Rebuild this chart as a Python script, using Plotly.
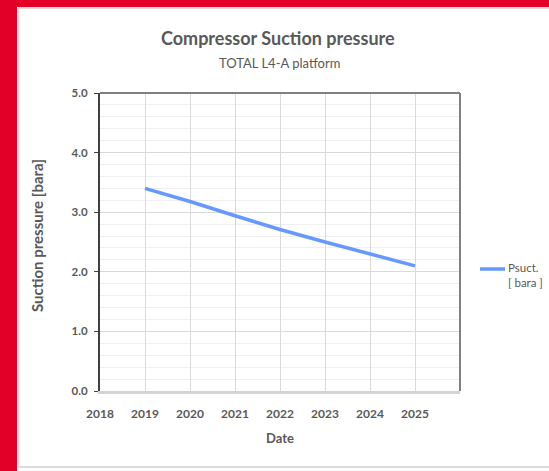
import plotly.graph_objects as go

# Suction pressure forecast (bara) per year
years = [2019, 2020, 2021, 2022, 2023, 2024, 2025]
psuct = [3.40, 3.18, 2.94, 2.71, 2.50, 2.30, 2.10]
x_ticks = [2018, 2019, 2020, 2021, 2022, 2023, 2024, 2025]
x_ticktext = [str(v) for v in x_ticks]
series_name = "Psuct.<br>[ bara ]"

W, H = 549, 471
ML, MR, MT, MB = 100, 89, 93, 80
PW, PH = W - ML - MR, H - MT - MB

FONT = "Lato, Open Sans, sans-serif"
GREY = "#595959"
RED = "#E30028"
LINE = "#6699FF"


def px(x):
    return (x - ML) / PW


def py(y):
    return (H - MB - y) / PH


fig = go.Figure()
fig.add_trace(go.Scatter(
    x=years, y=psuct, mode="lines", name=series_name,
    line=dict(color=LINE, width=3.5), showlegend=False,
))

shapes = [
    # red frame strips
    dict(type="rect", xref="paper", yref="paper", x0=px(0), x1=px(17), y0=py(H), y1=py(0),
         fillcolor=RED, line_width=0, layer="below"),
    dict(type="rect", xref="paper", yref="paper", x0=px(0), x1=px(W), y0=py(7), y1=py(0),
         fillcolor=RED, line_width=0, layer="below"),
    # light panel edges
    dict(type="line", xref="paper", yref="paper", x0=px(18.5), x1=px(18.5), y0=py(8), y1=py(467),
         line=dict(color="#dcdcdc", width=2), layer="below"),
    dict(type="line", xref="paper", yref="paper", x0=px(18), x1=px(W), y0=py(8), y1=py(8),
         line=dict(color="#dcdcdc", width=2), layer="below"),
    dict(type="line", xref="paper", yref="paper", x0=px(18), x1=px(W), y0=py(467), y1=py(467),
         line=dict(color="#dcdcdc", width=2), layer="below"),
    # plot-area border (top and right)
    dict(type="line", xref="paper", yref="paper", x0=0, x1=1, y0=1, y1=1,
         line=dict(color="#808080", width=2)),
    dict(type="line", xref="paper", yref="paper", x0=1, x1=1, y0=0, y1=1,
         line=dict(color="#808080", width=2)),
    # legend key
    dict(type="line", xref="paper", yref="paper", x0=px(480), x1=px(505), y0=py(269), y1=py(269),
         line=dict(color=LINE, width=3.5)),
]


def label(text, x, y, size, angle=0, xanchor="center", yanchor="middle", align="center"):
    return dict(text=text, xref="paper", yref="paper", x=px(x), y=py(y),
                xanchor=xanchor, yanchor=yanchor, align=align, textangle=angle,
                showarrow=False, font=dict(size=size, color=GREY, family=FONT))


annotations = [
    label("<b>Compressor Suction pressure</b>", 278, 38, 18),
    label("TOTAL L4-A platform", 279, 63, 13),
    label("<b>Suction pressure [bara]</b>", 37, 236, 15),
    label("<b>Date</b>", 280, 438, 13),
    label(series_name, 506, 259, 11.5, xanchor="left", yanchor="top", align="left"),
]
annotations[2]["textangle"] = -90

fig.update_layout(
    width=W, height=H,
    margin=dict(l=ML, r=MR, t=MT, b=MB),
    paper_bgcolor="white", plot_bgcolor="white",
    font=dict(family=FONT, color=GREY, size=12),
    shapes=shapes, annotations=annotations,
    showlegend=False,
    xaxis=dict(
        range=[2018, 2026], tickvals=x_ticks, ticktext=x_ticktext,
        showgrid=True, gridcolor="#d9d9d9", gridwidth=1,
        showline=True, linecolor="#d4d4d4", linewidth=3,
        zeroline=False, ticks="", ticklabelstandoff=10,
        tickfont=dict(size=12, color=GREY, family=FONT, weight="bold"),
    ),
    yaxis=dict(
        range=[0, 5], dtick=1, tickformat=".1f",
        showgrid=True, gridcolor="#d9d9d9", gridwidth=1,
        minor=dict(dtick=0.2, showgrid=True, gridcolor="#efefef", gridwidth=1),
        showline=True, linecolor="#404040", linewidth=2,
        zeroline=False, ticks="outside", ticklen=4, tickcolor="#404040", tickwidth=1,
        ticklabelstandoff=4,
        tickfont=dict(size=11.5, color=GREY, family=FONT, weight="bold"),
    ),
)

fig.write_html("out.html")
